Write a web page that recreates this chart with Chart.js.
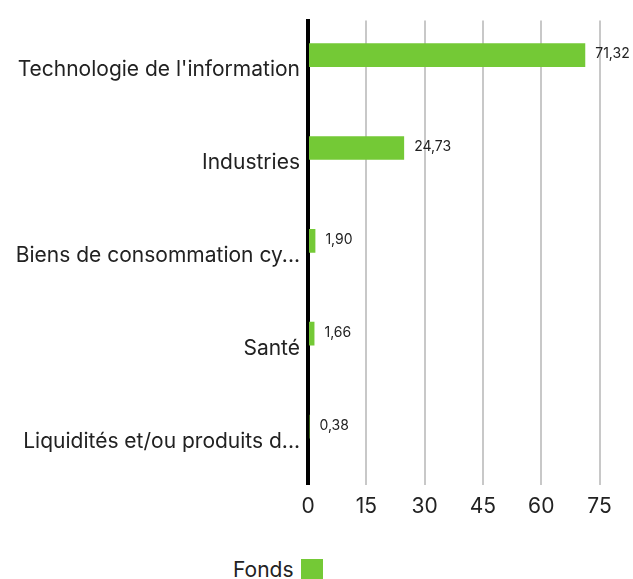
<!DOCTYPE html>
<html>
<head>
<meta charset="utf-8">
<script src="https://cdn.jsdelivr.net/npm/chart.js@4.4.0/dist/chart.umd.min.js"></script>
<style>
  body { margin: 0; background: #fff; }
  #wrap { position: relative; width: 633px; height: 579px; overflow: hidden; }
  #box { position: absolute; left: 0; top: 0; width: 633px; height: 530px; }
  #legend { position: absolute; left: 233px; top: 557px; font: 21px Inter, sans-serif; color: #222; display: flex; align-items: flex-start; }
  #legend span.sw { display: inline-block; width: 22px; height: 24px; background: #74c936; margin-left: 7px; margin-top: 2px; }
</style>
</head>
<body>
<div id="wrap">
  <div id="box"><canvas id="myChart"></canvas></div>
  <div id="legend"><span>Fonds</span><span class="sw"></span></div>
</div>
<script>
const categories = [
  "Technologie de l'information",
  "Industries",
  "Biens de consommation cyclique",
  "Santé",
  "Liquidités et/ou produits dérivés"
];
const fundValues = [71.32, 24.73, 1.90, 1.66, 0.38];
const xTicks = [0, 15, 30, 45, 60, 75];

const labelFont = '21px Inter, sans-serif';
const measureCtx = document.createElement('canvas').getContext('2d');
measureCtx.font = labelFont;

function fitLabel(text, maxWidth) {
  if (measureCtx.measureText(text).width <= maxWidth) return text;
  let s = text;
  while (s.length > 1 && measureCtx.measureText(s + '...').width > maxWidth) s = s.slice(0, -1);
  return s + '...';
}

const valueLabels = {
  id: 'valueLabels',
  afterDatasetsDraw(chart) {
    const ctx = chart.ctx;
    const meta = chart.getDatasetMeta(0);
    ctx.save();
    ctx.font = '14px Inter, sans-serif';
    ctx.fillStyle = '#222';
    ctx.textAlign = 'left';
    ctx.textBaseline = 'middle';
    meta.data.forEach((bar, i) => {
      const v = fundValues[i];
      ctx.fillText(v.toFixed(2).replace('.', ','), bar.x + 10, bar.y - 1);
    });
    ctx.restore();
  }
};

const ctx = document.getElementById('myChart').getContext('2d');
new Chart(ctx, {
  type: 'bar',
  data: {
    labels: categories,
    datasets: [
      {
        label: 'Fonds',
        data: fundValues,
        backgroundColor: '#74c936',
        categoryPercentage: 0.51,
        barPercentage: 1
      },
      {
        label: '',
        data: categories.map(() => null),
        backgroundColor: 'transparent',
        categoryPercentage: 0.51,
        barPercentage: 1
      }
    ]
  },
  options: {
    indexAxis: 'y',
    responsive: true,
    maintainAspectRatio: false,
    animation: false,
    layout: { padding: { top: 20, right: 14, bottom: 2, left: 0 } },
    plugins: {
      legend: { display: false },
      tooltip: { enabled: false }
    },
    scales: {
      x: {
        min: 0,
        max: 80,
        afterBuildTicks: axis => { axis.ticks = xTicks.map(v => ({ value: v })); },
        grid: { color: '#c8c8c8', lineWidth: 2, drawTicks: false },
        border: { display: false },
        ticks: { color: '#222', font: { family: 'Inter, sans-serif', size: 21 }, padding: 9 }
      },
      y: {
        afterFit: axis => { axis.width = 308; },
        grid: { display: false, drawTicks: false },
        border: { display: true, color: '#000', width: 4 },
        ticks: {
          color: '#222',
          font: { family: 'Inter, sans-serif', size: 21 },
          padding: 8,
          labelOffset: 3,
          callback: function (value) { return fitLabel(this.getLabelForValue(value), 285); }
        }
      }
    }
  },
  plugins: [valueLabels]
});
</script>
</body>
</html>
